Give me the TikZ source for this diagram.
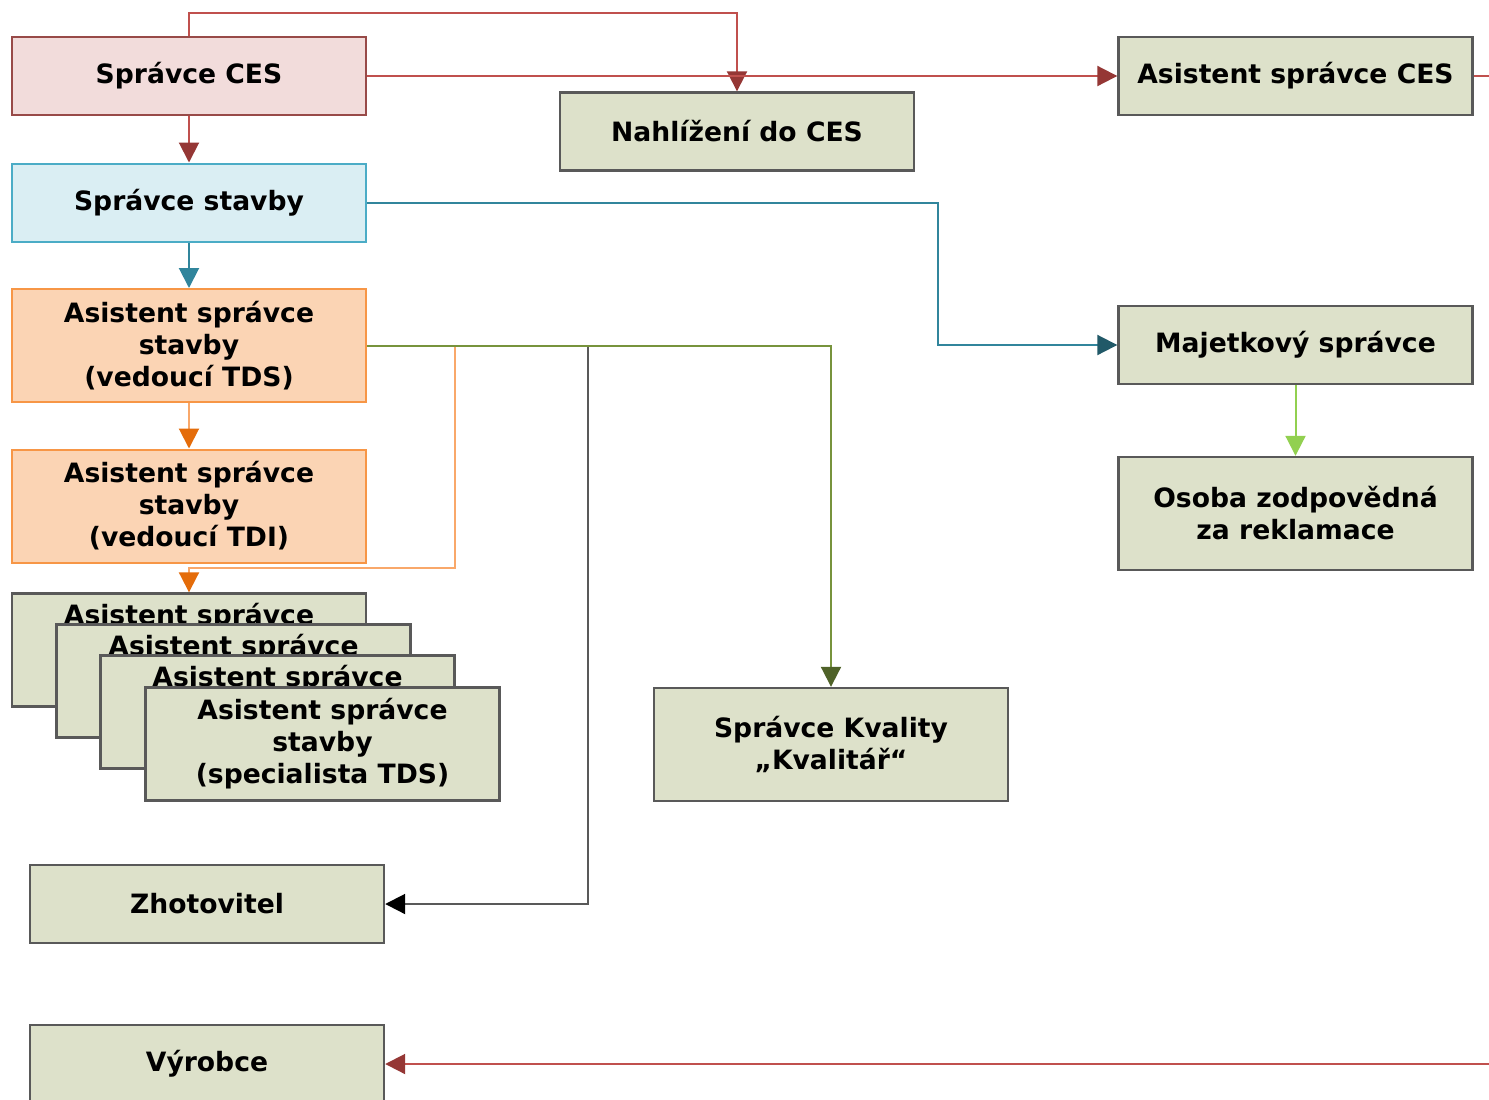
\documentclass[tikz,border=0pt]{standalone}
\usepackage{fontspec}
\setmainfont{DejaVu Sans}
\usetikzlibrary{arrows.meta}

\definecolor{pinkfill}{HTML}{F2DCDB}
\definecolor{pinkdraw}{HTML}{984A48}
\definecolor{bluefill}{HTML}{DAEEF3}
\definecolor{bluedraw}{HTML}{4BACC6}
\definecolor{peachfill}{HTML}{FBD4B4}
\definecolor{peachdraw}{HTML}{F79646}
\definecolor{olivefill}{HTML}{DDE1CA}
\definecolor{olivedraw}{HTML}{595959}
\definecolor{redline}{HTML}{C0504D}
\definecolor{redtip}{HTML}{953735}
\definecolor{tealline}{HTML}{31859C}
\definecolor{tealtip}{HTML}{215968}
\definecolor{orangeline}{HTML}{F9A86A}
\definecolor{orangetip}{HTML}{E46C0A}
\definecolor{greenline}{HTML}{77933C}
\definecolor{greentip}{HTML}{4F6228}
\definecolor{grayline}{HTML}{595959}
\definecolor{lightgreen}{HTML}{92D050}

\tikzset{
  boxfont/.style={font=\fontsize{13.3}{16}\selectfont\bfseries},
  box/.style={draw, rectangle, line width=1pt, inner sep=0pt, align=center,
    minimum width=177pt, minimum height=39pt, boxfont},
  tall/.style={minimum height=56.5pt},
  pinkbox/.style={box, fill=pinkfill, draw=pinkdraw},
  bluebox/.style={box, fill=bluefill, draw=bluedraw},
  peachbox/.style={box, fill=peachfill, draw=peachdraw},
  olivebox/.style={box, fill=olivefill, draw=olivedraw, line width=1.2pt},
  firstline/.style={anchor=base, inner sep=0pt, boxfont},
  conn/.style={line width=1pt},
  tipto/.style={-{Triangle[length=10pt,width=10pt,color=#1]}}
}

\begin{document}
\begin{tikzpicture}[x=0.5pt,y=-0.5pt]
\clip (0,0) rectangle (1489,1099);
\fill[white] (0,0) rectangle (1489,1099);

% left column
\node[pinkbox]  (sces)  at (189,76)    {Správce CES};
\node[bluebox]  (sstav) at (189,202.5) {Správce stavby};
\node[peachbox,tall] (tds) at (189,345.5) {Asistent správce\\stavby\\(vedoucí TDS)};
\node[peachbox,tall] (tdi) at (189,506)   {Asistent správce\\stavby\\(vedoucí TDI)};

% stacked specialists: only the first line of the rear cards shows
\node[olivebox,tall] (sp1) at (189,650) {};
\path (sp1.north) ++(0,32) node[firstline] (sp1t) {Asistent správce};
\node[olivebox,tall] (sp2) at (233.5,681) {};
\path (sp2.north) ++(0,32) node[firstline] (sp2t) {Asistent správce};
\node[olivebox,tall] (sp3) at (277.5,712) {};
\path (sp3.north) ++(0,32) node[firstline] (sp3t) {Asistent správce};
\node[olivebox,tall] (sp4) at (322.5,744) {Asistent správce\\stavby\\(specialista TDS)};

\node[olivebox] (zhot) at (207,904)  {Zhotovitel};
\node[olivebox] (vyr)  at (207,1064) {Výrobce};

% middle and right
\node[olivebox] (nahl) at (737,131.5) {Nahlížení do CES};
\node[olivebox,tall] (kval) at (831,744.5) {Správce Kvality\\„Kvalitář“};
\node[olivebox] (ascs) at (1295.5,76)  {Asistent správce CES};
\node[olivebox] (maj)  at (1295.5,345) {Majetkový správce};
\node[olivebox,tall] (osoba) at (1295.5,513.5) {Osoba zodpovědná\\za reklamace};

% bend points
\coordinate (topbend) at (189,13);
\coordinate (tealbend) at (938,0);
\coordinate (orangebend) at (455,568);
\coordinate (graybend) at (588,0);
\coordinate (outright) at (1530,76);

% red connectors
\draw[conn, redline, tipto=redtip] (sces) -- (sstav);
\draw[conn, redline, tipto=redtip] (sces.north) -- (topbend) -| (nahl.north);
\draw[conn, redline, tipto=redtip] (sces.east) -- (ascs.west);
\draw[conn, redline, tipto=redtip] (ascs.east) -- (outright) |- (vyr.east);

% teal connectors
\draw[conn, tealline, tipto=tealline] (sstav) -- (tds);
\draw[conn, tealline, tipto=tealtip] (sstav.east) -- (sstav.east -| tealbend) |- (maj.west);

% orange connectors
\draw[conn, orangeline, tipto=orangetip] (tds) -- (tdi);
\draw[conn, orangeline, tipto=orangetip] (tds.east) -- (tds.east -| orangebend) -- (orangebend) -| (sp1.north);

% gray connector to the contractor
\draw[conn, grayline, tipto=black] (tds.east) -- (tds.east -| graybend) |- (zhot.east);

% green connector to quality manager
\draw[conn, greenline, tipto=greentip] (tds.east) -| (kval.north);

% light green connector
\draw[conn, lightgreen, tipto=lightgreen] (maj) -- (osoba);
\end{tikzpicture}
\end{document}
